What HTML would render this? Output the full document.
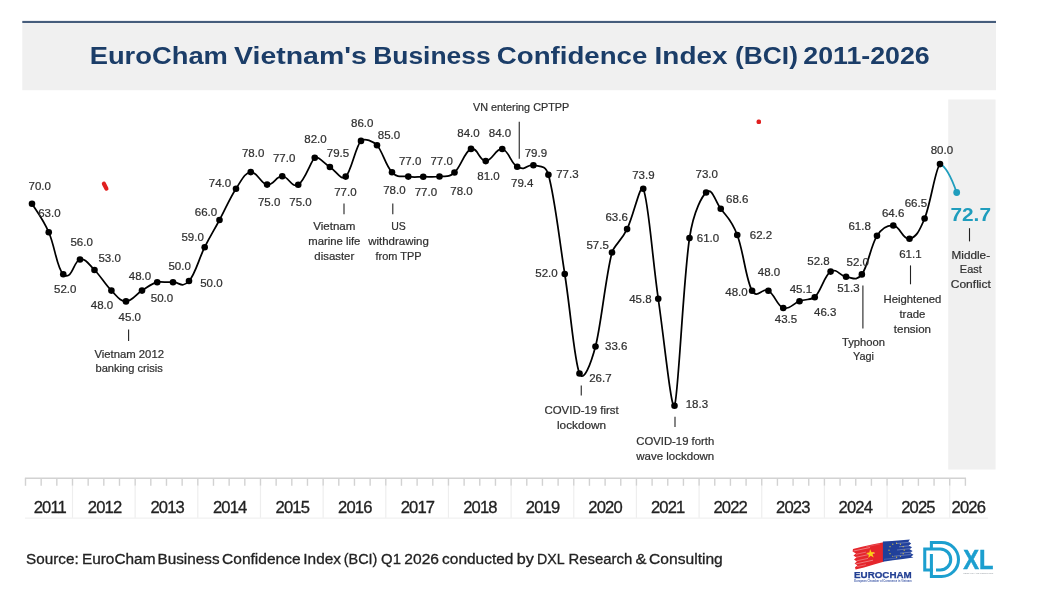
<!DOCTYPE html>
<html><head><meta charset="utf-8"><title>EuroCham BCI</title>
<style>html,body{margin:0;padding:0;background:#fff;}body{width:1043px;height:600px;overflow:hidden;font-family:"Liberation Sans",sans-serif;}svg{display:block;will-change:transform;}text{font-family:"Liberation Sans",sans-serif;}</style></head><body>
<svg width="1043" height="600" viewBox="0 0 1043 600">
<rect x="0" y="0" width="1043" height="600" fill="#ffffff"/>
<rect x="22.3" y="21" width="973.7" height="69.2" fill="#f0f0f0"/>
<rect x="22.3" y="20.9" width="973.7" height="2.1" fill="#465d7c"/>
<g font-size="24.4" font-weight="bold" fill="#1b3d68">
<text x="89.70" y="64.2" textLength="138.20" lengthAdjust="spacingAndGlyphs">EuroCham</text>
<text x="234.10" y="64.2" textLength="132.70" lengthAdjust="spacingAndGlyphs">Vietnam's</text>
<text x="373.20" y="64.2" textLength="117.40" lengthAdjust="spacingAndGlyphs">Business</text>
<text x="496.80" y="64.2" textLength="150.60" lengthAdjust="spacingAndGlyphs">Confidence</text>
<text x="654.60" y="64.2" textLength="72.90" lengthAdjust="spacingAndGlyphs">Index</text>
<text x="735.10" y="64.2" textLength="62.80" lengthAdjust="spacingAndGlyphs">(BCI)</text>
<text x="803.30" y="64.2" textLength="126.40" lengthAdjust="spacingAndGlyphs">2011-2026</text>
</g>
<rect x="948.2" y="99.5" width="47.4" height="370" fill="#f0f0f0"/>
<g stroke="#d2d2d2" stroke-width="1.4" fill="none">
<line x1="24.90" y1="478.3" x2="966.00" y2="478.3"/>
<line x1="25.50" y1="478.3" x2="25.50" y2="485.8"/>
<line x1="41.16" y1="478.3" x2="41.16" y2="485.8"/>
<line x1="56.83" y1="478.3" x2="56.83" y2="485.8"/>
<line x1="72.50" y1="478.3" x2="72.50" y2="485.8"/>
<line x1="88.16" y1="478.3" x2="88.16" y2="485.8"/>
<line x1="103.82" y1="478.3" x2="103.82" y2="485.8"/>
<line x1="119.49" y1="478.3" x2="119.49" y2="485.8"/>
<line x1="135.16" y1="478.3" x2="135.16" y2="485.8"/>
<line x1="150.82" y1="478.3" x2="150.82" y2="485.8"/>
<line x1="166.48" y1="478.3" x2="166.48" y2="485.8"/>
<line x1="182.15" y1="478.3" x2="182.15" y2="485.8"/>
<line x1="197.81" y1="478.3" x2="197.81" y2="485.8"/>
<line x1="213.48" y1="478.3" x2="213.48" y2="485.8"/>
<line x1="229.14" y1="478.3" x2="229.14" y2="485.8"/>
<line x1="244.81" y1="478.3" x2="244.81" y2="485.8"/>
<line x1="260.48" y1="478.3" x2="260.48" y2="485.8"/>
<line x1="276.14" y1="478.3" x2="276.14" y2="485.8"/>
<line x1="291.81" y1="478.3" x2="291.81" y2="485.8"/>
<line x1="307.47" y1="478.3" x2="307.47" y2="485.8"/>
<line x1="323.13" y1="478.3" x2="323.13" y2="485.8"/>
<line x1="338.80" y1="478.3" x2="338.80" y2="485.8"/>
<line x1="354.46" y1="478.3" x2="354.46" y2="485.8"/>
<line x1="370.13" y1="478.3" x2="370.13" y2="485.8"/>
<line x1="385.79" y1="478.3" x2="385.79" y2="485.8"/>
<line x1="401.46" y1="478.3" x2="401.46" y2="485.8"/>
<line x1="417.12" y1="478.3" x2="417.12" y2="485.8"/>
<line x1="432.79" y1="478.3" x2="432.79" y2="485.8"/>
<line x1="448.45" y1="478.3" x2="448.45" y2="485.8"/>
<line x1="464.12" y1="478.3" x2="464.12" y2="485.8"/>
<line x1="479.78" y1="478.3" x2="479.78" y2="485.8"/>
<line x1="495.45" y1="478.3" x2="495.45" y2="485.8"/>
<line x1="511.11" y1="478.3" x2="511.11" y2="485.8"/>
<line x1="526.78" y1="478.3" x2="526.78" y2="485.8"/>
<line x1="542.44" y1="478.3" x2="542.44" y2="485.8"/>
<line x1="558.11" y1="478.3" x2="558.11" y2="485.8"/>
<line x1="573.77" y1="478.3" x2="573.77" y2="485.8"/>
<line x1="589.44" y1="478.3" x2="589.44" y2="485.8"/>
<line x1="605.11" y1="478.3" x2="605.11" y2="485.8"/>
<line x1="620.77" y1="478.3" x2="620.77" y2="485.8"/>
<line x1="636.43" y1="478.3" x2="636.43" y2="485.8"/>
<line x1="652.10" y1="478.3" x2="652.10" y2="485.8"/>
<line x1="667.76" y1="478.3" x2="667.76" y2="485.8"/>
<line x1="683.43" y1="478.3" x2="683.43" y2="485.8"/>
<line x1="699.09" y1="478.3" x2="699.09" y2="485.8"/>
<line x1="714.76" y1="478.3" x2="714.76" y2="485.8"/>
<line x1="730.42" y1="478.3" x2="730.42" y2="485.8"/>
<line x1="746.09" y1="478.3" x2="746.09" y2="485.8"/>
<line x1="761.75" y1="478.3" x2="761.75" y2="485.8"/>
<line x1="777.42" y1="478.3" x2="777.42" y2="485.8"/>
<line x1="793.08" y1="478.3" x2="793.08" y2="485.8"/>
<line x1="808.75" y1="478.3" x2="808.75" y2="485.8"/>
<line x1="824.41" y1="478.3" x2="824.41" y2="485.8"/>
<line x1="840.08" y1="478.3" x2="840.08" y2="485.8"/>
<line x1="855.75" y1="478.3" x2="855.75" y2="485.8"/>
<line x1="871.41" y1="478.3" x2="871.41" y2="485.8"/>
<line x1="887.07" y1="478.3" x2="887.07" y2="485.8"/>
<line x1="902.74" y1="478.3" x2="902.74" y2="485.8"/>
<line x1="918.40" y1="478.3" x2="918.40" y2="485.8"/>
<line x1="934.07" y1="478.3" x2="934.07" y2="485.8"/>
<line x1="949.73" y1="478.3" x2="949.73" y2="485.8"/>
<line x1="965.40" y1="478.3" x2="965.40" y2="485.8"/>
</g>
<g stroke="#eeeeee" stroke-width="1.2" fill="none">
<line x1="72.50" y1="485.8" x2="72.50" y2="518"/>
<line x1="135.16" y1="485.8" x2="135.16" y2="518"/>
<line x1="197.81" y1="485.8" x2="197.81" y2="518"/>
<line x1="260.48" y1="485.8" x2="260.48" y2="518"/>
<line x1="323.13" y1="485.8" x2="323.13" y2="518"/>
<line x1="385.79" y1="485.8" x2="385.79" y2="518"/>
<line x1="448.45" y1="485.8" x2="448.45" y2="518"/>
<line x1="511.11" y1="485.8" x2="511.11" y2="518"/>
<line x1="573.77" y1="485.8" x2="573.77" y2="518"/>
<line x1="636.43" y1="485.8" x2="636.43" y2="518"/>
<line x1="699.09" y1="485.8" x2="699.09" y2="518"/>
<line x1="761.75" y1="485.8" x2="761.75" y2="518"/>
<line x1="824.41" y1="485.8" x2="824.41" y2="518"/>
<line x1="887.07" y1="485.8" x2="887.07" y2="518"/>
<line x1="949.73" y1="485.8" x2="949.73" y2="518"/>
<line x1="25" y1="518.2" x2="988" y2="518.2" stroke="#f1f1f1"/>
</g>
<g font-size="16.6" fill="#222222" stroke="#222222" stroke-width="0.3" text-anchor="middle" letter-spacing="-0.85">
<text x="49.87" y="512.6">2011</text>
<text x="104.61" y="512.6">2012</text>
<text x="167.18" y="512.6">2013</text>
<text x="229.74" y="512.6">2014</text>
<text x="292.30" y="512.6">2015</text>
<text x="354.87" y="512.6">2016</text>
<text x="417.43" y="512.6">2017</text>
<text x="479.99" y="512.6">2018</text>
<text x="542.55" y="512.6">2019</text>
<text x="605.12" y="512.6">2020</text>
<text x="667.68" y="512.6">2021</text>
<text x="730.24" y="512.6">2022</text>
<text x="792.81" y="512.6">2023</text>
<text x="855.37" y="512.6">2024</text>
<text x="917.93" y="512.6">2025</text>
<text x="968.32" y="512.6">2026</text>
</g>
<g stroke="#222222" stroke-width="1.1" fill="none">
<line x1="128.60" y1="329.40" x2="128.60" y2="341.00"/>
<line x1="344.00" y1="203.40" x2="344.00" y2="214.20"/>
<line x1="392.80" y1="203.40" x2="392.80" y2="214.20"/>
<line x1="519.25" y1="121.75" x2="519.25" y2="158.75"/>
<line x1="581.25" y1="385.50" x2="581.25" y2="395.50"/>
<line x1="675.00" y1="416.75" x2="675.00" y2="427.00"/>
<line x1="862.90" y1="285.50" x2="862.90" y2="328.50"/>
<line x1="910.50" y1="265.40" x2="910.50" y2="284.30"/>
<line x1="969.50" y1="228.20" x2="969.50" y2="241.40"/>
</g>
<path d="M32.00,203.75 C35.35,209.45 42.50,218.15 48.75,232.25 C55.00,246.35 57.00,268.80 63.25,274.25 C72.00,281.88 73.75,260.35 80.00,259.50 C86.25,258.65 88.22,263.78 94.50,270.00 C100.78,276.22 105.10,284.32 111.40,290.60 C117.70,296.88 119.88,301.40 126.00,301.40 C132.12,301.40 135.76,294.44 142.00,290.60 C148.24,286.76 151.00,283.88 157.20,282.20 C159.68,281.53 166.64,282.44 173.00,282.20 C179.36,281.96 181.87,288.88 189.00,281.00 C195.34,274.00 198.60,259.40 204.70,247.20 C210.80,235.00 213.24,231.69 219.50,220.00 C225.76,208.31 229.75,198.33 236.00,188.75 C242.25,179.17 244.53,172.93 250.75,172.10 C256.97,171.27 260.80,183.77 267.10,184.60 C273.40,185.43 276.02,176.22 282.25,176.25 C288.48,176.28 291.75,188.45 298.25,184.75 C304.75,181.05 311.58,159.53 314.75,157.75 C318.55,155.62 323.71,163.23 329.90,167.00 C336.09,170.77 340.72,180.78 345.70,176.60 C350.99,172.16 355.68,146.23 361.00,140.90 C364.60,137.29 373.44,141.64 377.00,145.25 C382.27,150.59 385.74,166.03 392.00,172.30 C398.26,178.57 402.05,175.71 408.30,176.60 C414.55,177.49 417.01,176.77 423.25,176.75 C429.49,176.73 433.25,177.35 439.50,176.50 C445.75,175.65 448.20,178.02 454.50,172.50 C460.80,166.98 464.75,151.18 471.00,148.90 C477.25,146.62 479.50,161.08 485.75,161.10 C492.00,161.12 495.96,147.86 502.25,149.00 C508.54,150.14 510.97,163.56 517.20,166.80 C526.55,171.66 527.16,163.60 533.40,165.20 C539.64,166.80 545.44,164.53 548.40,174.80 C554.67,196.56 558.53,234.26 564.75,274.00 C570.97,313.74 574.27,361.18 579.50,373.50 C583.80,383.65 591.27,362.23 595.50,346.50 C601.02,325.93 605.68,275.98 612.00,252.50 C613.90,245.46 620.85,241.85 627.10,229.10 C633.35,216.35 640.45,182.48 643.25,188.75 C648.55,200.59 652.00,255.35 658.25,298.75 C664.50,342.15 671.38,411.81 674.50,405.75 C678.25,398.47 683.18,280.75 689.50,238.10 C693.77,209.30 702.98,195.44 706.10,192.50 C712.35,186.63 714.52,200.25 720.75,208.75 C726.98,217.25 730.98,218.60 737.25,235.00 C743.52,251.40 745.87,279.60 752.10,290.75 C757.08,299.67 762.17,287.30 768.40,290.75 C774.63,294.20 777.03,305.90 783.25,308.00 C789.47,310.10 793.20,303.40 799.50,301.25 C805.80,299.10 812.26,299.62 814.75,297.25 C820.97,291.32 824.34,275.69 830.60,271.60 C836.86,267.51 839.80,276.24 846.05,276.80 C852.30,277.36 856.07,282.05 861.85,274.40 C868.04,266.21 870.71,245.64 877.00,235.85 C883.27,226.09 889.40,225.10 893.30,225.45 C899.80,226.03 903.24,240.14 909.50,238.75 C915.76,237.36 918.87,232.53 924.60,218.50 C930.70,203.57 935.51,167.74 940.00,164.10" fill="none" stroke="#000000" stroke-width="1.75" stroke-linejoin="round" stroke-linecap="round"/>
<path d="M940.00,164.10 C947,166.5 953.5,183.5 956.70,192.50" fill="none" stroke="#1f9dbd" stroke-width="1.75" stroke-linecap="round"/>
<g fill="#000000">
<circle cx="32.00" cy="203.75" r="3.3"/>
<circle cx="48.75" cy="232.25" r="3.3"/>
<circle cx="63.25" cy="274.25" r="3.3"/>
<circle cx="80.00" cy="259.50" r="3.3"/>
<circle cx="94.50" cy="270.00" r="3.3"/>
<circle cx="111.40" cy="290.60" r="3.3"/>
<circle cx="126.00" cy="301.40" r="3.3"/>
<circle cx="142.00" cy="290.60" r="3.3"/>
<circle cx="157.20" cy="282.20" r="3.3"/>
<circle cx="173.00" cy="282.20" r="3.3"/>
<circle cx="189.00" cy="281.00" r="3.3"/>
<circle cx="204.70" cy="247.20" r="3.3"/>
<circle cx="219.50" cy="220.00" r="3.3"/>
<circle cx="236.00" cy="188.75" r="3.3"/>
<circle cx="250.75" cy="172.10" r="3.3"/>
<circle cx="267.10" cy="184.60" r="3.3"/>
<circle cx="282.25" cy="176.25" r="3.3"/>
<circle cx="298.25" cy="184.75" r="3.3"/>
<circle cx="314.75" cy="157.75" r="3.3"/>
<circle cx="329.90" cy="167.00" r="3.3"/>
<circle cx="345.70" cy="176.60" r="3.3"/>
<circle cx="361.00" cy="140.90" r="3.3"/>
<circle cx="377.00" cy="145.25" r="3.3"/>
<circle cx="392.00" cy="172.30" r="3.3"/>
<circle cx="408.30" cy="176.60" r="3.3"/>
<circle cx="423.25" cy="176.75" r="3.3"/>
<circle cx="439.50" cy="176.50" r="3.3"/>
<circle cx="454.50" cy="172.50" r="3.3"/>
<circle cx="471.00" cy="148.90" r="3.3"/>
<circle cx="485.75" cy="161.10" r="3.3"/>
<circle cx="502.25" cy="149.00" r="3.3"/>
<circle cx="517.20" cy="166.80" r="3.3"/>
<circle cx="533.40" cy="165.20" r="3.3"/>
<circle cx="548.40" cy="174.80" r="3.3"/>
<circle cx="564.75" cy="274.00" r="3.3"/>
<circle cx="579.50" cy="373.50" r="3.3"/>
<circle cx="595.50" cy="346.50" r="3.3"/>
<circle cx="612.00" cy="252.50" r="3.3"/>
<circle cx="627.10" cy="229.10" r="3.3"/>
<circle cx="643.25" cy="188.75" r="3.3"/>
<circle cx="658.25" cy="298.75" r="3.3"/>
<circle cx="674.50" cy="405.75" r="3.3"/>
<circle cx="689.50" cy="238.10" r="3.3"/>
<circle cx="706.10" cy="192.50" r="3.3"/>
<circle cx="720.75" cy="208.75" r="3.3"/>
<circle cx="737.25" cy="235.00" r="3.3"/>
<circle cx="752.10" cy="290.75" r="3.3"/>
<circle cx="768.40" cy="290.75" r="3.3"/>
<circle cx="783.25" cy="308.00" r="3.3"/>
<circle cx="799.50" cy="301.25" r="3.3"/>
<circle cx="814.75" cy="297.25" r="3.3"/>
<circle cx="830.60" cy="271.60" r="3.3"/>
<circle cx="846.05" cy="276.80" r="3.3"/>
<circle cx="861.85" cy="274.40" r="3.3"/>
<circle cx="877.00" cy="235.85" r="3.3"/>
<circle cx="893.30" cy="225.45" r="3.3"/>
<circle cx="909.50" cy="238.75" r="3.3"/>
<circle cx="924.60" cy="218.50" r="3.3"/>
<circle cx="940.00" cy="164.10" r="3.3"/>
</g>
<circle cx="956.70" cy="192.50" r="3.4" fill="#1f9dbd"/>
<g font-size="11.5" fill="#303030" stroke="#303030" stroke-width="0.22" text-anchor="middle">
<text x="39.75" y="189.60">70.0</text>
<text x="49.40" y="217.10">63.0</text>
<text x="65.25" y="292.85">52.0</text>
<text x="81.60" y="246.35">56.0</text>
<text x="109.60" y="262.10">53.0</text>
<text x="102.00" y="309.20">48.0</text>
<text x="129.80" y="321.40">45.0</text>
<text x="140.00" y="279.50">48.0</text>
<text x="162.00" y="301.70">50.0</text>
<text x="179.60" y="270.10">50.0</text>
<text x="211.40" y="286.60">50.0</text>
<text x="192.60" y="240.60">59.0</text>
<text x="206.00" y="215.85">66.0</text>
<text x="220.00" y="186.60">74.0</text>
<text x="253.10" y="157.40">78.0</text>
<text x="269.10" y="206.00">75.0</text>
<text x="284.10" y="162.20">77.0</text>
<text x="300.50" y="206.00">75.0</text>
<text x="315.50" y="142.85">82.0</text>
<text x="338.00" y="156.60">79.5</text>
<text x="345.40" y="196.00">77.0</text>
<text x="362.25" y="127.20">86.0</text>
<text x="389.00" y="139.10">85.0</text>
<text x="394.40" y="194.20">78.0</text>
<text x="410.10" y="164.50">77.0</text>
<text x="425.90" y="196.35">77.0</text>
<text x="441.60" y="164.50">77.0</text>
<text x="461.50" y="194.70">78.0</text>
<text x="468.50" y="137.20">84.0</text>
<text x="488.45" y="180.10">81.0</text>
<text x="500.00" y="137.00">84.0</text>
<text x="522.25" y="187.00">79.4</text>
<text x="535.90" y="157.00">79.9</text>
<text x="567.40" y="178.20">77.3</text>
<text x="546.50" y="277.00">52.0</text>
<text x="600.40" y="381.60">26.7</text>
<text x="616.25" y="350.35">33.6</text>
<text x="597.60" y="248.70">57.5</text>
<text x="616.60" y="221.20">63.6</text>
<text x="643.40" y="178.70">73.9</text>
<text x="640.40" y="303.20">45.8</text>
<text x="696.90" y="408.20">18.3</text>
<text x="708.00" y="241.80">61.0</text>
<text x="706.70" y="178.00">73.0</text>
<text x="737.25" y="203.20">68.6</text>
<text x="761.00" y="239.30">62.2</text>
<text x="736.50" y="296.40">48.0</text>
<text x="769.00" y="275.50">48.0</text>
<text x="786.00" y="322.50">43.5</text>
<text x="800.90" y="293.20">45.1</text>
<text x="825.25" y="316.20">46.3</text>
<text x="818.50" y="265.10">52.8</text>
<text x="848.40" y="291.60">51.3</text>
<text x="857.75" y="266.10">52.0</text>
<text x="859.60" y="230.00">61.8</text>
<text x="893.10" y="217.00">64.6</text>
<text x="910.40" y="257.85">61.1</text>
<text x="915.90" y="207.00">66.5</text>
<text x="941.90" y="153.70">80.0</text>
</g>
<text x="970.7" y="221.3" text-anchor="middle" font-size="19.2" font-weight="bold" fill="#1f9dbd" textLength="40.6" lengthAdjust="spacingAndGlyphs">72.7</text>
<g font-size="11.3" fill="#303030" stroke="#303030" stroke-width="0.22" text-anchor="middle">
<text x="129.20" y="358.00" textLength="69.6" lengthAdjust="spacingAndGlyphs">Vietnam 2012</text>
<text x="129.20" y="372.00" textLength="67.4" lengthAdjust="spacingAndGlyphs">banking crisis</text>
<text x="334.30" y="230.00" textLength="42.2" lengthAdjust="spacingAndGlyphs">Vietnam</text>
<text x="334.30" y="245.00" textLength="52.1" lengthAdjust="spacingAndGlyphs">marine life</text>
<text x="334.30" y="260.00" textLength="39.9" lengthAdjust="spacingAndGlyphs">disaster</text>
<text x="398.50" y="230.00" textLength="14.6" lengthAdjust="spacingAndGlyphs">US</text>
<text x="398.50" y="245.00" textLength="60.6" lengthAdjust="spacingAndGlyphs">withdrawing</text>
<text x="398.50" y="260.00" textLength="46.0" lengthAdjust="spacingAndGlyphs">from TPP</text>
<text x="521.10" y="110.50" textLength="96.2" lengthAdjust="spacingAndGlyphs">VN entering CPTPP</text>
<text x="581.60" y="414.25" textLength="74.2" lengthAdjust="spacingAndGlyphs">COVID-19 first</text>
<text x="581.60" y="429.00" textLength="49.2" lengthAdjust="spacingAndGlyphs">lockdown</text>
<text x="675.25" y="445.00" textLength="78.0" lengthAdjust="spacingAndGlyphs">COVID-19 forth</text>
<text x="675.25" y="460.00" textLength="78.0" lengthAdjust="spacingAndGlyphs">wave lockdown</text>
<text x="863.50" y="345.80" textLength="43.0" lengthAdjust="spacingAndGlyphs">Typhoon</text>
<text x="863.50" y="360.30" textLength="21.0" lengthAdjust="spacingAndGlyphs">Yagi</text>
<text x="912.40" y="302.80" textLength="57.8" lengthAdjust="spacingAndGlyphs">Heightened</text>
<text x="912.40" y="317.70" textLength="25.9" lengthAdjust="spacingAndGlyphs">trade</text>
<text x="912.40" y="332.60" textLength="37.3" lengthAdjust="spacingAndGlyphs">tension</text>
<text x="970.80" y="258.60" textLength="38.5" lengthAdjust="spacingAndGlyphs">Middle-</text>
<text x="970.80" y="273.40" textLength="21.9" lengthAdjust="spacingAndGlyphs">East</text>
<text x="970.80" y="288.20" textLength="40.1" lengthAdjust="spacingAndGlyphs">Conflict</text>
</g>
<line x1="103.9" y1="183.7" x2="106.4" y2="188.6" stroke="#e01f1f" stroke-width="4.2" stroke-linecap="round"/>
<rect x="756.6" y="119.6" width="4.4" height="4.4" rx="1.6" fill="#e01f1f"/>
<g font-size="15.4" fill="#222222" stroke="#222222" stroke-width="0.3">
<text x="26.10" y="563.8" textLength="52.60" lengthAdjust="spacingAndGlyphs">Source:</text>
<text x="81.90" y="563.8" textLength="73.60" lengthAdjust="spacingAndGlyphs">EuroCham</text>
<text x="157.50" y="563.8" textLength="62.10" lengthAdjust="spacingAndGlyphs">Business</text>
<text x="222.10" y="563.8" textLength="78.50" lengthAdjust="spacingAndGlyphs">Confidence</text>
<text x="303.30" y="563.8" textLength="37.70" lengthAdjust="spacingAndGlyphs">Index</text>
<text x="343.70" y="563.8" textLength="33.70" lengthAdjust="spacingAndGlyphs">(BCI)</text>
<text x="381.10" y="563.8" textLength="19.80" lengthAdjust="spacingAndGlyphs">Q1</text>
<text x="404.30" y="563.8" textLength="34.70" lengthAdjust="spacingAndGlyphs">2026</text>
<text x="442.10" y="563.8" textLength="71.30" lengthAdjust="spacingAndGlyphs">conducted</text>
<text x="516.80" y="563.8" textLength="17.10" lengthAdjust="spacingAndGlyphs">by</text>
<text x="537.00" y="563.8" textLength="27.60" lengthAdjust="spacingAndGlyphs">DXL</text>
<text x="568.60" y="563.8" textLength="63.60" lengthAdjust="spacingAndGlyphs">Research</text>
<text x="635.60" y="563.8" textLength="11.00" lengthAdjust="spacingAndGlyphs">&amp;</text>
<text x="649.10" y="563.8" textLength="73.70" lengthAdjust="spacingAndGlyphs">Consulting</text>
</g>
<g id="eurocham">
<polygon points="853.0,548.9 862.0,546.7 872.0,544.6 883.6,542.3 883.6,561.8 874.0,564.6 864.0,567.4 855.6,569.6 855.0,567.2 857.4,565.6 854.6,563.6 856.8,561.4 854.0,559.4 856.4,557.4 853.4,555.4 856.0,553.4 852.6,551.4" fill="#e5262c"/>
<line x1="853.5" y1="551.0" x2="870.0" y2="547.5" stroke="#ffffff" stroke-width="0.7" opacity="0.55"/>
<line x1="856.0" y1="554.3" x2="866.0" y2="552.1" stroke="#ffffff" stroke-width="0.6" opacity="0.50"/>
<line x1="854.5" y1="557.6" x2="875.0" y2="553.2" stroke="#ffffff" stroke-width="0.7" opacity="0.50"/>
<line x1="856.5" y1="560.9" x2="868.0" y2="558.4" stroke="#ffffff" stroke-width="0.6" opacity="0.55"/>
<line x1="855.5" y1="564.0" x2="873.0" y2="560.2" stroke="#ffffff" stroke-width="0.7" opacity="0.55"/>
<line x1="857.0" y1="566.6" x2="866.0" y2="564.7" stroke="#ffffff" stroke-width="0.6" opacity="0.50"/>
<line x1="866.0" y1="546.9" x2="880.0" y2="543.9" stroke="#ffffff" stroke-width="0.5" opacity="0.35"/>
<polygon points="870.11,549.23 871.55,552.25 874.89,551.99 872.46,554.30 873.74,557.39 870.80,555.79 868.25,557.97 868.86,554.67 866.00,552.92 869.33,552.49" fill="#fbd116"/>
<polygon points="882.9,541.6 892.0,540.9 901.0,540.2 909.9,539.6 908.4,541.6 911.2,543.4 908.8,545.4 912.0,547.2 909.6,549.2 912.6,551.0 910.4,553.0 913.5,554.8 911.0,556.4 913.4,557.4 903.0,558.9 893.0,560.3 882.9,561.8" fill="#21409a"/>
<line x1="896.0" y1="543.6" x2="909.0" y2="542.3" stroke="#ffffff" stroke-width="0.6" opacity="0.45"/>
<line x1="899.0" y1="546.8" x2="911.0" y2="545.6" stroke="#ffffff" stroke-width="0.6" opacity="0.50"/>
<line x1="897.0" y1="550.0" x2="910.0" y2="548.7" stroke="#ffffff" stroke-width="0.6" opacity="0.45"/>
<line x1="900.0" y1="553.2" x2="912.0" y2="552.0" stroke="#ffffff" stroke-width="0.6" opacity="0.50"/>
<line x1="894.0" y1="556.2" x2="911.0" y2="554.5" stroke="#ffffff" stroke-width="0.6" opacity="0.45"/>
<line x1="884.0" y1="559.3" x2="897.0" y2="558.0" stroke="#ffffff" stroke-width="0.5" opacity="0.35"/>
<circle cx="904.20" cy="550.20" r="0.6" fill="#e8cc3a"/>
<circle cx="903.18" cy="553.70" r="0.6" fill="#e8cc3a"/>
<circle cx="900.40" cy="556.26" r="0.6" fill="#e8cc3a"/>
<circle cx="896.60" cy="557.19" r="0.6" fill="#e8cc3a"/>
<circle cx="892.80" cy="556.26" r="0.6" fill="#e8cc3a"/>
<circle cx="890.02" cy="553.70" r="0.6" fill="#e8cc3a"/>
<circle cx="889.00" cy="550.20" r="0.6" fill="#e8cc3a"/>
<circle cx="890.02" cy="546.70" r="0.6" fill="#e8cc3a"/>
<circle cx="892.80" cy="544.14" r="0.6" fill="#e8cc3a"/>
<circle cx="896.60" cy="543.21" r="0.6" fill="#e8cc3a"/>
<circle cx="900.40" cy="544.14" r="0.6" fill="#e8cc3a"/>
<circle cx="903.18" cy="546.70" r="0.6" fill="#e8cc3a"/>
<text x="854.1" y="577.9" font-size="8.7" font-weight="bold" fill="#223f93" stroke="#223f93" stroke-width="0.25" textLength="57.6" lengthAdjust="spacingAndGlyphs">EUROCHAM</text>
<text x="854.3" y="581.6" font-size="2.9" font-weight="bold" fill="#4a63ad" textLength="57.4" lengthAdjust="spacingAndGlyphs">European Chamber of Commerce in Vietnam</text>
</g>
<g id="dxl" fill="none" stroke="#1c9fcf" stroke-width="3.05" stroke-linejoin="miter">
<path d="M931.4,550.0 V542.5 H941.5 A17,17 0 0 1 941.5,576.5 H931.4 V554.0"/>
<path d="M936.0,569.9 H940.3 A10.45,10.45 0 0 0 940.3,549.0 H924.75 V569.9 H932.9"/>
</g>
<text x="963.2" y="569.3" font-size="26.8" font-weight="bold" fill="#1c9fcf" stroke="#1c9fcf" stroke-width="0.5" textLength="30.2" lengthAdjust="spacingAndGlyphs">XL</text>
<text x="963.3" y="573.6" font-size="2.2" fill="#9aa0a6" textLength="30" lengthAdjust="spacingAndGlyphs">RESEARCH AND CONSULTING</text>
</svg></body></html>
